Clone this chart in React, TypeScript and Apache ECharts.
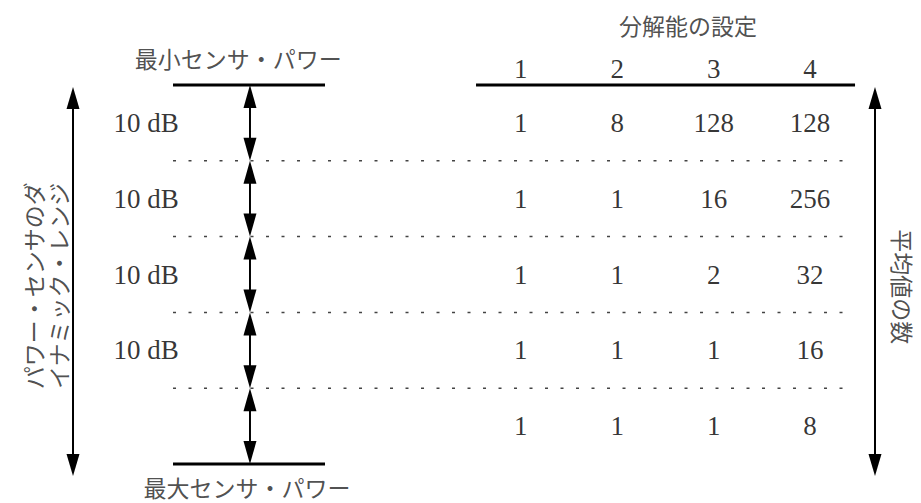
import React, { useEffect, useRef } from 'react';
import * as echarts from 'echarts';

// ---- data ----
const resolutionSettings = ['1', '2', '3', '4'];
// number of averages per resolution setting, one row per 10 dB band (min power -> max power)
const averagesRow1 = [1, 8, 128, 128];
const averagesRow2 = [1, 1, 16, 256];
const averagesRow3 = [1, 1, 2, 32];
const averagesRow4 = [1, 1, 1, 16];
const averagesRow5 = [1, 1, 1, 8];
const averageRows = [averagesRow1, averagesRow2, averagesRow3, averagesRow4, averagesRow5];
const bandStepLabels = ['10 dB', '10 dB', '10 dB', '10 dB'];
const resolutionTitle = '分解能の設定';
const minPowerLabel = '最小センサ・パワー';
const maxPowerLabel = '最大センサ・パワー';
const dynamicRangeLabel = 'パワー・センサのダ\nイナミック・レンジ';
const averagesLabel = '平均値の数';

// ---- layout (axis units: x = resolution column, y = power band) ----
const X_MIN = -4.4;
const X_MAX = 5.15;
const Y_MIN = 0;
const Y_MAX = averageRows.length;
const X_DOT_START = -2.606;
const X_DOT_END = 4.445;
const X_LEFT_BAR_END = -1.03;
const X_TABLE_START = 0.536;
const X_TABLE_END = 4.466;
const X_STEP_ARROW = -1.808;
const X_STEP_LABEL = -2.886;
const X_RANGE_ARROW = -3.643;
const X_AVG_ARROW = 4.673;
const Y_ARROW_TOP = 0.026;
const Y_ARROW_BOTTOM = 5.158;
const Y_HEADER = -0.21;
const Y_TITLE = -0.79;
const Y_MIN_LABEL = -0.36;
const Y_MAX_LABEL = 5.3;

const SERIF = 'Liberation Serif';
const CJK = 'Noto Sans CJK JP';
const INK = '#000';

export default function App() {
  const ref = useRef<HTMLDivElement>(null);

  useEffect(() => {
    if (!ref.current) return;
    const chart = echarts.init(ref.current, null, { renderer: 'svg' });

    // lines: [x1, y1, x2, y2, dashed]
    const lineData: number[][] = [
      [X_DOT_START, 0, X_LEFT_BAR_END, 0, 0],
      [X_DOT_START, Y_MAX, X_LEFT_BAR_END, Y_MAX, 0],
      [X_TABLE_START, 0, X_TABLE_END, 0, 0],
    ];
    for (let i = 1; i < averageRows.length; i++) {
      lineData.push([X_DOT_START, i, X_DOT_END, i, 1]);
    }

    // arrows: [x, yFrom, yTo, size]
    const arrowData: number[][] = [
      [X_RANGE_ARROW, Y_ARROW_TOP, Y_ARROW_BOTTOM, 1],
      [X_AVG_ARROW, Y_ARROW_TOP, Y_ARROW_BOTTOM, 1],
    ];
    for (let i = 0; i < averageRows.length; i++) {
      arrowData.push([X_STEP_ARROW, i, i + 1, 0]);
    }

    const numLabel = { fontFamily: SERIF, fontSize: 27, color: INK };
    const cjkLabel = { fontFamily: CJK, fontSize: 23, color: '#222' };

    const textData: any[] = [];
    averageRows.forEach((row, r) => {
      row.forEach((v, c) => {
        textData.push({ value: [c + 1, r + 0.5], label: { ...numLabel, formatter: String(v) } });
      });
    });
    resolutionSettings.forEach((h, c) => {
      textData.push({ value: [c + 1, Y_HEADER], label: { ...numLabel, formatter: h } });
    });
    bandStepLabels.forEach((t, i) => {
      textData.push({ value: [X_STEP_LABEL, i + 0.5], label: { ...numLabel, formatter: t } });
    });
    textData.push({ value: [2.734, Y_TITLE], label: { ...cjkLabel, formatter: resolutionTitle } });
    textData.push({ value: [-1.93, Y_MIN_LABEL], label: { ...cjkLabel, formatter: minPowerLabel } });
    textData.push({
      value: [-1.84, Y_MAX_LABEL],
      label: { ...cjkLabel, formatter: maxPowerLabel, lineHeight: 20 },
    });
    textData.push({
      value: [-3.93, 2.65],
      label: { ...cjkLabel, formatter: dynamicRangeLabel, rotate: 90, lineHeight: 25, align: 'center' },
    });
    textData.push({
      value: [4.963, 2.66],
      label: { ...cjkLabel, formatter: averagesLabel, rotate: -90 },
    });

    chart.setOption({
      animation: false,
      backgroundColor: '#fff',
      grid: { left: 0, right: 0, top: 85, bottom: 39 },
      xAxis: { type: 'value', min: X_MIN, max: X_MAX, show: false },
      yAxis: { type: 'value', min: Y_MIN, max: Y_MAX, inverse: true, show: false },
      series: [
        {
          type: 'custom',
          data: lineData,
          silent: true,
          renderItem: (_p: any, api: any) => {
            const a = api.coord([api.value(0), api.value(1)]);
            const b = api.coord([api.value(2), api.value(3)]);
            const dashed = api.value(4) === 1;
            return {
              type: 'line',
              shape: { x1: a[0], y1: a[1], x2: b[0], y2: b[1] },
              style: dashed
                ? { stroke: '#444', lineWidth: 1.5, lineDash: [3, 12.5] }
                : { stroke: '#000', lineWidth: 3 },
            };
          },
        },
        {
          type: 'custom',
          data: arrowData,
          silent: true,
          renderItem: (_p: any, api: any) => {
            const x = api.value(0);
            const a = api.coord([x, api.value(1)]);
            const b = api.coord([x, api.value(2)]);
            const big = api.value(3) === 1;
            const H = big ? 22 : 23;
            const W = 6.5;
            return {
              type: 'group',
              children: [
                {
                  type: 'line',
                  shape: { x1: a[0], y1: a[1] + H - 1, x2: b[0], y2: b[1] - H + 1 },
                  style: { stroke: '#000', lineWidth: 2 },
                },
                {
                  type: 'polygon',
                  shape: { points: [[a[0], a[1]], [a[0] - W, a[1] + H], [a[0] + W, a[1] + H]] },
                  style: { fill: '#000' },
                },
                {
                  type: 'polygon',
                  shape: { points: [[b[0], b[1]], [b[0] - W, b[1] - H], [b[0] + W, b[1] - H]] },
                  style: { fill: '#000' },
                },
              ],
            };
          },
        },
        {
          type: 'scatter',
          data: textData,
          symbolSize: 0,
          clip: false,
          silent: true,
          label: { show: true, position: 'inside' },
        },
      ],
    });

    return () => chart.dispose();
  }, []);

  return (
    <div
      ref={ref}
      style={{ position: 'absolute', left: 0, top: 0, width: 921, height: 503, background: '#fff' }}
    />
  );
}
